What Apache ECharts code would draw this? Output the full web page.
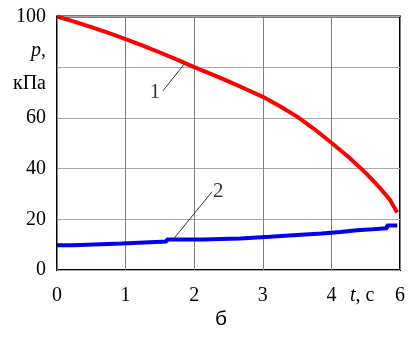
<!DOCTYPE html>
<html>
<head>
<meta charset="utf-8">
<script src="https://cdn.jsdelivr.net/npm/echarts@6/dist/echarts.min.js"></script>
<style>html,body{margin:0;padding:0;background:#fff}#c{width:416px;height:337px}</style>
</head>
<body>
<div id="c"></div>
<script>
// Curve 1 (red): pressure vs time
const t1 = [0, 0.25, 0.5, 0.75, 1, 1.25, 1.5, 1.75, 2, 2.25, 2.5, 2.75, 3, 3.25, 3.5, 3.75, 4, 4.25, 4.5, 4.7, 4.85, 4.96];
const p1 = [100, 98, 95.8, 93.5, 91.1, 88.5, 85.8, 83, 80, 77.3, 74.4, 71.4, 68.3, 64.6, 60.5, 55.6, 50.2, 44.6, 38.3, 32.6, 27.8, 22.7];
// Curve 2 (blue): stepped
const t2 = [0, 0.23, 0.95, 1.6, 2.13, 2.67, 3.1, 3.5, 3.86, 4.13, 4.37, 4.6, 4.81, 4.96];
const p2 = [9.8, 10.5, 11.2, 12.0, 12.4, 13.1, 13.8, 14.4, 15.0, 15.7, 16.1, 16.5, 17.6, 17.8];
// Tick labels
const xTickValues = [0, 1, 2, 3, 4, 4.45, 5];
const xTickLabels = ['0', '1', '2', '3', '4', '{i|t}, с', '6'];
const yTickValues = [0, 20, 40, 60, 80, 100];
const yTickLabels = ['0', '20', '40', '60', '{i|p},\nкПа', '100'];
// Curve annotations
const annNames = ['1', '2'];
const annText = [[1.43, 70.0], [2.35, 31.0]];
const annLineFrom = [[1.545, 70.7], [2.26, 30.9]];
const annLineTo = [[1.85, 81.1], [1.68, 11.6]];
const subLabel = 'б';

const FONT = 'Liberation Serif';
const chart = echarts.init(document.getElementById('c'));
const rich = { i: { fontStyle: 'italic', fontFamily: FONT, fontSize: 20, color: '#000' } };
chart.setOption({
  animation: false,
  grid: { left: 57, top: 11, right: 16, bottom: 67, show: true, borderColor: '#000', borderWidth: 2, backgroundColor: 'transparent' },
  xAxis: {
    type: 'value', min: 0, max: 5, interval: 1,
    axisLine: { show: false }, axisTick: { show: false },
    splitLine: { show: true, lineStyle: { color: '#808080', width: 1 } },
    axisLabel: {
      customValues: xTickValues,
      margin: 16, fontFamily: FONT, fontSize: 20, color: '#000', rich: rich,
      formatter: function (v) { const i = xTickValues.findIndex(x => Math.abs(x - v) < 1e-6); return i >= 0 ? xTickLabels[i] : ''; }
    }
  },
  yAxis: {
    type: 'value', min: 0, max: 100, interval: 20,
    axisLine: { show: false }, axisTick: { show: false },
    splitLine: { show: true, lineStyle: { color: '#a8a8a8', width: 1 } },
    axisLabel: {
      margin: 11, fontFamily: FONT, fontSize: 20, color: '#000', lineHeight: 33, rich: {
        i: { fontStyle: 'italic', fontFamily: FONT, fontSize: 20, color: '#000', lineHeight: 33 }
      },
      formatter: function (v) { const i = yTickValues.indexOf(v); return i >= 0 ? yTickLabels[i] : ''; }
    }
  },
  series: [
    {
      type: 'line', data: t1.map((t, i) => [t, p1[i]]), smooth: false, showSymbol: false,
      lineStyle: { color: '#ff0000', width: 4 }, z: 3
    },
    {
      type: 'line', data: t2.map((t, i) => [t, p2[i]]), step: 'end', showSymbol: false,
      lineStyle: { color: '#0000ee', width: 4 }, z: 3
    },
    {
      type: 'scatter', symbolSize: 0, data: annText.map((c, i) => ({ value: c, name: annNames[i] })),
      label: { show: true, position: 'inside', formatter: '{b}', fontFamily: FONT, fontSize: 21, color: '#000' },
      markLine: {
        silent: true, symbol: 'none', label: { show: false },
        lineStyle: { color: '#333', width: 1, type: 'solid' },
        data: annLineFrom.map((c, i) => [{ coord: c }, { coord: annLineTo[i] }])
      },
      z: 4
    }
  ],
  graphic: [{
    type: 'text', left: 215, top: 309,
    style: { text: subLabel, font: '21px "Liberation Sans"', fill: '#000' }
  }]
});
</script>
</body>
</html>
